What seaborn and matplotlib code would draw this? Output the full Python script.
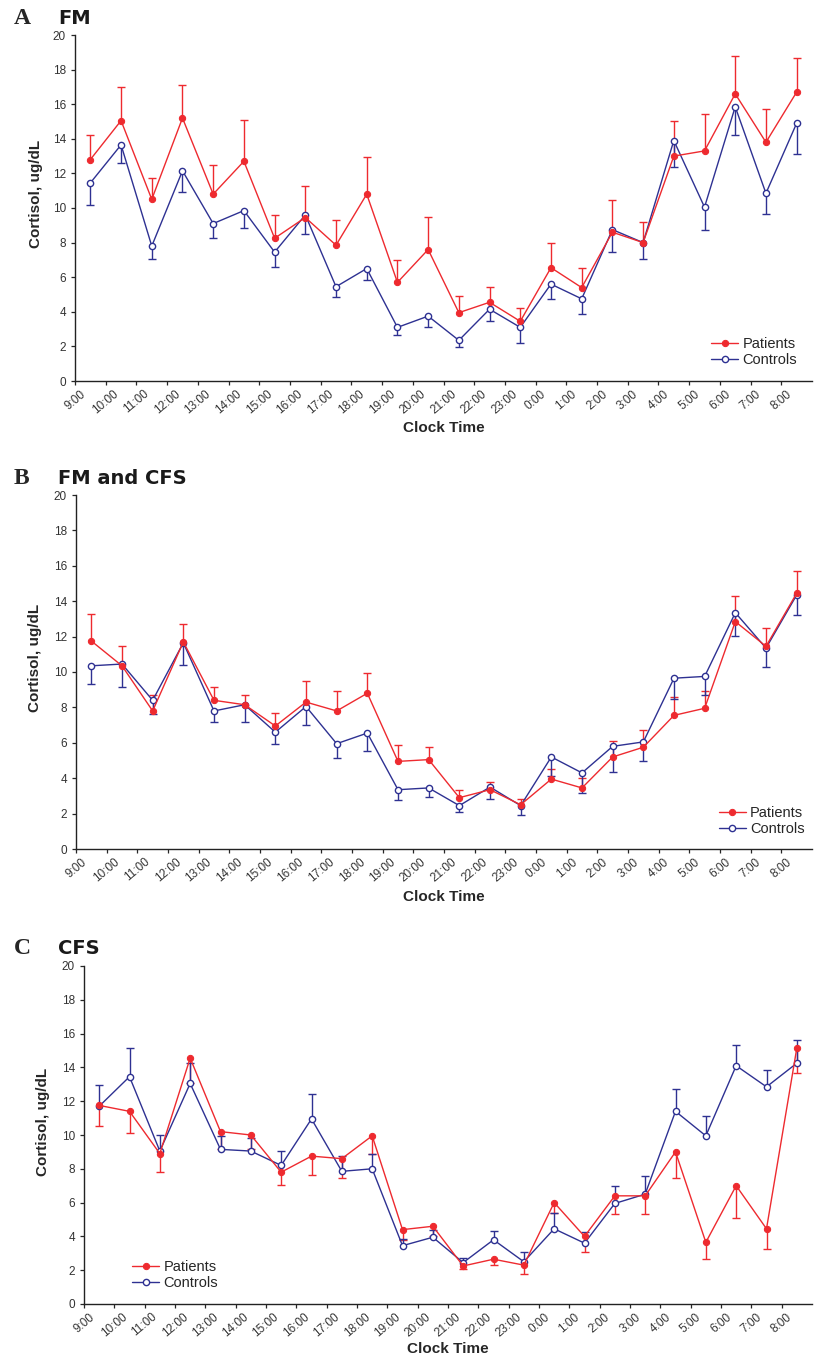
import numpy as np
import matplotlib
matplotlib.use("Agg")
import matplotlib.pyplot as plt
import seaborn as sns

# clock times (one hourly sample each)
times = ["9:00", "10:00", "11:00", "12:00", "13:00", "14:00", "15:00", "16:00",
         "17:00", "18:00", "19:00", "20:00", "21:00", "22:00", "23:00", "0:00",
         "1:00", "2:00", "3:00", "4:00", "5:00", "6:00", "7:00", "8:00"]

# A - FM
fm_pat = [12.8, 15.05, 10.5, 15.2, 10.8, 12.7, 8.25, 9.45, 7.85, 10.8, 5.7, 7.6,
          3.95, 4.55, 3.45, 6.55, 5.4, 8.6, 8.0, 13.0, 13.3, 16.6, 13.8, 16.7]
fm_pat_err = [1.4, 1.95, 1.25, 1.9, 1.7, 2.4, 1.35, 1.85, 1.45, 2.15, 1.3, 1.9,
              0.95, 0.9, 0.75, 1.4, 1.15, 1.85, 1.2, 2.05, 2.15, 2.2, 1.9, 1.95]
fm_con = [11.45, 13.65, 7.8, 12.15, 9.1, 9.85, 7.45, 9.6, 5.45, 6.5, 3.1, 3.75,
          2.35, 4.15, 3.1, 5.6, 4.75, 8.75, 8.0, 13.9, 10.05, 15.85, 10.85, 14.9]
fm_con_err = [1.3, 1.05, 0.75, 1.2, 0.85, 1.0, 0.85, 1.1, 0.6, 0.65, 0.45, 0.65,
              0.4, 0.7, 0.9, 0.85, 0.9, 1.3, 0.95, 1.55, 1.35, 1.65, 1.2, 1.75]

# B - FM and CFS
both_pat = [11.75, 10.35, 7.8, 11.7, 8.4, 8.15, 6.95, 8.3, 7.8, 8.8, 4.95, 5.05,
            2.9, 3.35, 2.5, 3.95, 3.45, 5.2, 5.75, 7.55, 7.95, 12.85, 11.45, 14.45]
both_pat_err = [1.5, 1.1, 0.9, 1.0, 0.75, 0.55, 0.75, 1.2, 1.15, 1.15, 0.9, 0.7,
                0.45, 0.45, 0.35, 0.55, 0.55, 0.9, 0.95, 1.05, 1.0, 1.45, 1.05, 1.25]
both_con = [10.35, 10.45, 8.4, 11.65, 7.8, 8.15, 6.6, 8.05, 5.95, 6.55, 3.35, 3.45,
            2.45, 3.5, 2.45, 5.2, 4.3, 5.8, 6.05, 9.65, 9.75, 13.35, 11.35, 14.35]
both_con_err = [1.05, 1.3, 0.75, 1.25, 0.65, 1.0, 0.65, 1.05, 0.8, 1.0, 0.6, 0.5,
                0.35, 0.65, 0.55, 1.1, 1.15, 1.45, 1.05, 1.15, 1.05, 1.3, 1.05, 1.15]

# C - CFS
cfs_pat = [11.75, 11.4, 8.9, 14.55, 10.2, 10.0, 7.8, 8.75, 8.6, 9.95, 4.4, 4.6,
           2.25, 2.65, 2.3, 6.0, 4.0, 6.4, 6.4, 9.0, 3.65, 7.0, 4.45, 15.15]
cfs_pat_err = [1.2, 1.3, 1.1, 1.45, 1.0, 0.8, 0.75, 1.1, 1.15, 1.1, 0.6, 0.55,
               0.2, 0.35, 0.55, 0.6, 0.9, 1.05, 1.1, 1.55, 1.0, 1.9, 1.2, 1.5]
cfs_con = [11.7, 13.45, 9.05, 13.05, 9.15, 9.05, 8.2, 10.95, 7.85, 8.0, 3.45, 3.95,
           2.45, 3.8, 2.5, 4.45, 3.6, 5.95, 6.5, 11.4, 9.95, 14.1, 12.85, 14.25]
cfs_con_err = [1.25, 1.7, 0.95, 1.2, 0.8, 0.8, 0.85, 1.5, 0.9, 0.85, 0.4, 0.45,
               0.3, 0.5, 0.6, 0.95, 0.65, 1.05, 1.1, 1.35, 1.2, 1.2, 1.0, 1.35]

RED = "#ee2a2f"
BLUE = "#2e3192"

sns.set_style("ticks")
plt.rcParams["font.family"] = ["Liberation Sans", "DejaVu Sans"]

fig = plt.figure(figsize=(8.17, 13.58), dpi=100)
H = 1358.0
W = 817.0


def add_panel(left, right, top, bottom):
    return fig.add_axes([left / W, 1 - bottom / H, (right - left) / W, (bottom - top) / H])


def err_bars(ax, pos, vals, err, color, up=True):
    err = np.asarray(err)
    zeros = np.zeros_like(err)
    yerr = [zeros, err] if up else [err, zeros]
    _, caps, _ = ax.errorbar(pos, vals, yerr=yerr, fmt="none", ecolor=color,
                             elinewidth=1.0, capsize=3, capthick=1.0, zorder=2)
    for c in caps:
        if np.allclose(c.get_ydata(), vals):
            c.set_visible(False)


def draw(ax, pat, pat_err, con, con_err, pat_up, legend_loc, legend_anchor):
    pos = np.arange(len(times)) + 0.5
    err_bars(ax, pos, pat, pat_err, RED, up=pat_up)
    err_bars(ax, pos, con, con_err, BLUE, up=not pat_up)
    sns.lineplot(x=pos, y=pat, ax=ax, color=RED, lw=1.0, marker="o", markersize=4.5,
                 markerfacecolor=RED, markeredgecolor=RED, label="Patients", zorder=4)
    sns.lineplot(x=pos, y=con, ax=ax, color=BLUE, lw=1.0, marker="o", markersize=4.5,
                 markerfacecolor="white", markeredgecolor=BLUE, markeredgewidth=1.0,
                 label="Controls", zorder=3)
    ax.set_xlim(0, 24)
    ax.set_ylim(0, 20)
    ax.set_yticks(np.arange(0, 21, 2))
    ax.set_xticks(np.arange(24))
    ax.set_xticklabels(times, rotation=40, fontsize=8.5, color="#333333")
    ax.tick_params(axis="y", labelsize=8.5, labelcolor="#333333", length=3, width=0.9)
    ax.tick_params(axis="x", length=3, width=0.9, pad=2)
    for s in ["top", "right"]:
        ax.spines[s].set_visible(False)
    for s in ["left", "bottom"]:
        ax.spines[s].set_linewidth(1.0)
        ax.spines[s].set_color("#222222")
    ax.set_ylabel("Cortisol, ug/dL", fontsize=11, fontweight="bold")
    ax.set_xlabel("Clock Time", fontsize=11, fontweight="bold", va="top")
    ax.legend(loc=legend_loc, bbox_to_anchor=legend_anchor, frameon=False, fontsize=10.5,
              borderpad=0, borderaxespad=0, handlelength=1.85, handletextpad=0.3,
              labelspacing=0.15)


axA = add_panel(75, 812, 35, 381)
draw(axA, fm_pat, fm_pat_err, fm_con, fm_con_err, True, "lower right", (0.98, 0.04))
axA.yaxis.set_label_coords(-0.044, 0.54)
axA.xaxis.set_label_coords(0.5, -0.117)

axB = add_panel(76, 812, 495, 849)
draw(axB, both_pat, both_pat_err, both_con, both_con_err, True, "lower right", (0.99, 0.037))
axB.yaxis.set_label_coords(-0.046, 0.54)
axB.xaxis.set_label_coords(0.5, -0.117)

axC = add_panel(84, 812, 966, 1304)
draw(axC, cfs_pat, cfs_pat_err, cfs_con, cfs_con_err, False, "lower left", (0.066, 0.041))
axC.yaxis.set_label_coords(-0.047, 0.54)
axC.xaxis.set_label_coords(0.5, -0.112)

# panel letters and titles
for letter, title, yc in [("A", "FM", 18), ("B", "FM and CFS", 478), ("C", "CFS", 948)]:
    fig.text(14 / W, 1 - yc / H, letter, family="Liberation Serif", fontweight="bold",
             fontsize=17, va="center", ha="left")
    fig.text(58 / W, 1 - yc / H, title, family="DejaVu Sans", fontweight="bold",
             fontsize=14, va="center", ha="left", color="#1a1a1a")

fig.savefig("out.png", dpi=100)
